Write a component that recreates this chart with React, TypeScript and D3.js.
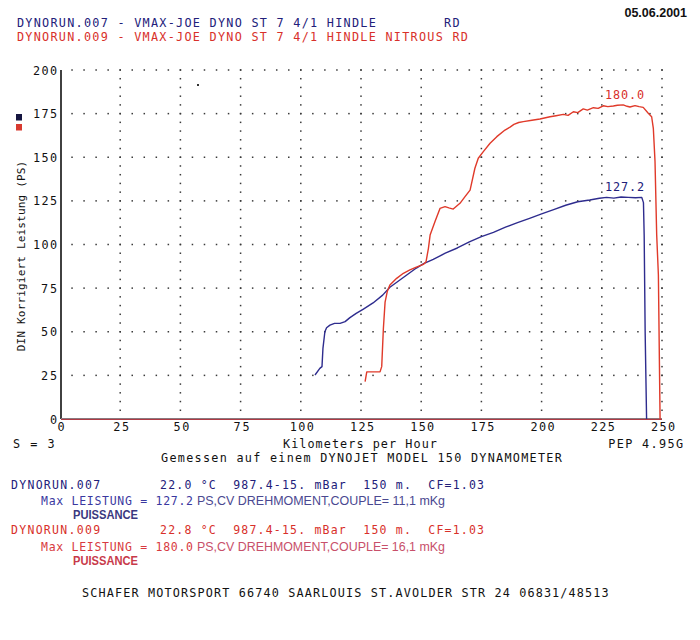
import React from "react";
import * as d3 from "d3";

// ---------- data ----------
const blueSpeed = [105.9,107.9,108.8,109.2,110.0,110.7,112.1,114.0,116.3,118.4,120.4,123,126,130,134,137,141,145,148,151,155,160,165,170,175,180,185,190,195,200,205,210,215,220,224,227,230,233,236,239,241.6,242.3,242.6,243.0,243.6];
const bluePower = [25.2,29,30,40.5,50,52.3,53.8,54.8,54.8,55.8,58.1,60.5,63,66.5,71,75.5,79.5,83.5,86.5,89,91.5,95,98,101.5,104.5,107,110,112.5,115,117.5,120,122.5,124.5,125.5,126.5,127,126.6,127.2,127,126.8,127,124,105,50,0];

const redSpeed = [126.7,127.4,130,132.9,133.6,134.3,135.0,135.9,137.0,139.8,142.6,145.3,148,150.9,152.0,153.0,153.7,155.7,157.8,159.9,161.5,163.3,166.1,168.2,170.3,172.3,173.7,175.8,178.6,181.4,184.8,186.9,188.5,190.5,192.4,196,199.3,203.5,206,209,211,213.2,215,217.3,219,221.5,223.5,225.6,227.5,229.8,231.5,233.9,235.5,236.7,238.8,240.5,242.2,244.3,245.7,246.4,247.1,247.8,248.5,249.2];
const redPower = [21.4,27,27,27,30,52,67,73,76.8,80.6,83.5,85.4,87,88.6,90.1,97.8,105.4,113,120.7,121.7,121,120.3,123.6,127.4,131.2,143.7,149.4,153.2,158,161.8,165.6,167.3,168.8,169.9,170.4,171.2,171.9,173.2,173.8,174.6,174,176.1,175.6,177.7,177,178.4,178,179.5,179,179.4,179.8,180.0,179.2,178.8,179.6,179,178.6,175.2,173.2,166.6,147.5,105.4,82.5,0];

const xTicks = [0,25,50,75,100,125,150,175,200,225,250];
const yTicks = [0,25,50,75,100,125,150,175,200];
const blueMax = "127.2";
const redMax = "180.0";

// ---------- style ----------
const DOS = "'DejaVu Sans Mono', monospace";
const SANS = "'Liberation Sans', Arial, sans-serif";
const BLUE = "#2e2c8e";
const BLUE_TXT = "#22207a";
const BLUE_LIGHT = "#4a4890";
const RED = "#e03a2a";
const RED_TXT = "#d8302a";
const RED_LIGHT = "#c8506a";

function Dos({ x, y, s, pitch = 8.3, size = 11.8, fill = "#000", anchor = "start", transform }: any) {
  return (
    <text
      x={x}
      y={y}
      fontFamily={DOS}
      fontSize={size}
      fill={fill}
      textAnchor={anchor}
      textLength={s.length * pitch}
      lengthAdjust="spacing"
      transform={transform}
      style={{ whiteSpace: "pre" }}
    >
      {s}
    </text>
  );
}

export default function App() {
  const x = d3.scaleLinear().domain([0, 250]).range([60, 662]);
  const y = d3.scaleLinear().domain([0, 200]).range([419, 70]);

  const line = d3
    .line<[number, number]>()
    .x((d) => x(d[0]))
    .y((d) => y(d[1]))
    .curve(d3.curveLinear);

  const blueData: [number, number][] = blueSpeed.map((s, i) => [s, bluePower[i]]);
  const redData: [number, number][] = redSpeed.map((s, i) => [s, redPower[i]]);

  // grid dots every 5 units along gridlines
  const dots: { cx: number; cy: number }[] = [];
  yTicks.filter((t) => t > 0).forEach((t) => {
    for (let k = 5; k <= 250; k += 5) dots.push({ cx: x(k), cy: y(t) });
  });
  xTicks.filter((t) => t > 0).forEach((t) => {
    for (let p = 5; p <= 200; p += 5) dots.push({ cx: x(t), cy: y(p) });
  });

  return (
    <svg
      width={700}
      height={640}
      style={{ position: "absolute", left: 0, top: 0, background: "#fff" }}
    >
      <rect x={0} y={0} width={700} height={640} fill="#fff" />

      {/* date */}
      <text x={687} y={17} textAnchor="end" fontFamily={SANS} fontWeight="bold" fontSize={12.5} fill="#111">
        05.06.2001
      </text>

      {/* header */}
      <Dos x={17} y={27} s="DYNORUN.007 - VMAX-JOE DYNO ST 7 4/1 HINDLE        RD" pitch={8.35} fill={BLUE_TXT} />
      <Dos x={17} y={41} s="DYNORUN.009 - VMAX-JOE DYNO ST 7 4/1 HINDLE NITROUS RD" pitch={8.35} fill={RED_TXT} />

      {/* legend squares */}
      <rect x={16} y={114} width={6} height={6.5} fill="#151540" />
      <rect x={16} y={124} width={6} height={6.5} fill="#d83a30" />

      {/* grid dots */}
      {dots.map((d, i) => (
        <rect key={i} x={d.cx - 0.75} y={d.cy - 0.75} width={1.5} height={1.5} fill="#3a3a3a" />
      ))}
      <rect x={197} y={84} width={2} height={2} fill="#333" />

      {/* axes */}
      <line x1={61} x2={61} y1={y(200)} y2={y(0)} stroke="#111" strokeWidth={1.6} />
      <line x1={61} x2={x(250)} y1={y(0) - 0.5} y2={y(0) - 0.5} stroke="#8a7a80" strokeWidth={1} />
      <line x1={61} x2={x(250)} y1={y(0) + 0.5} y2={y(0) + 0.5} stroke="#b03a44" strokeWidth={1.2} />

      {/* y tick labels */}
      {yTicks.map((t) => (
        <Dos key={t} x={57} y={y(t) + 4.5} s={String(t)} pitch={8} anchor="end" fill="#111" />
      ))}
      {/* x tick labels */}
      {xTicks.map((t) => (
        <Dos key={t} x={x(t) + 1} y={431} s={String(t)} pitch={8} anchor="middle" fill="#111" />
      ))}

      {/* y axis title */}
      <Dos
        x={0}
        y={0}
        s="DIN Korrigiert Leistung (PS)"
        pitch={6.8}
        size={11}
        anchor="middle"
        fill="#111"
        transform="translate(25,256) rotate(-90)"
      />

      {/* curves */}
      <path d={line(blueData) || ""} fill="none" stroke={BLUE} strokeWidth={1.4} strokeLinejoin="round" />
      <path d={line(redData) || ""} fill="none" stroke={RED} strokeWidth={1.4} strokeLinejoin="round" />

      {/* peak labels */}
      <Dos x={605} y={99} s={redMax} pitch={7.8} fill={RED_TXT} />
      <Dos x={605} y={191} s={blueMax} pitch={7.8} fill={BLUE_TXT} />

      {/* axis texts */}
      <Dos x={13} y={448} s="S = 3" pitch={8.3} fill="#111" />
      <Dos x={283} y={448} s="Kilometers per Hour" pitch={8.1} fill="#111" />
      <Dos x={683} y={448} s="PEP 4.95G" pitch={8.3} anchor="end" fill="#111" />
      <Dos x={161} y={462} s="Gemessen auf einem DYNOJET MODEL 150 DYNAMOMETER" pitch={8.35} fill="#111" />

      {/* run 007 block */}
      <Dos x={11} y={489} s="DYNORUN.007" pitch={8.1} size={11.5} fill={BLUE_TXT} />
      <Dos x={160} y={489} s="22.0 °C  987.4-15. mBar  150 m.  CF=1.03" pitch={8.1} size={11.5} fill={BLUE_TXT} />
      <Dos x={41} y={505} s={"Max LEISTUNG = " + blueMax} pitch={7.6} size={11.5} fill={"#3a38a0"} />
      <text x={197} y={505} fontFamily={SANS} fontSize={12} fill={BLUE_LIGHT} textLength={248} lengthAdjust="spacingAndGlyphs">
        PS,CV  DREHMOMENT,COUPLE= 11,1 mKg
      </text>
      <text x={73} y={519} fontFamily={SANS} fontWeight="bold" fontSize={12} fill={"#3a3880"} textLength={65} lengthAdjust="spacingAndGlyphs">
        PUISSANCE
      </text>

      {/* run 009 block */}
      <Dos x={11} y={534} s="DYNORUN.009" pitch={8.1} size={11.5} fill={RED_TXT} />
      <Dos x={160} y={534} s="22.8 °C  987.4-15. mBar  150 m.  CF=1.03" pitch={8.1} size={11.5} fill={RED_TXT} />
      <Dos x={41} y={551} s={"Max LEISTUNG = " + redMax} pitch={7.6} size={11.5} fill={"#d83a40"} />
      <text x={197} y={551} fontFamily={SANS} fontSize={12} fill={RED_LIGHT} textLength={248} lengthAdjust="spacingAndGlyphs">
        PS,CV  DREHMOMENT,COUPLE= 16,1 mKg
      </text>
      <text x={73} y={565} fontFamily={SANS} fontWeight="bold" fontSize={12} fill={"#c83a4a"} textLength={65} lengthAdjust="spacingAndGlyphs">
        PUISSANCE
      </text>

      {/* footer */}
      <Dos x={82} y={597} s="SCHAFER MOTORSPORT 66740 SAARLOUIS ST.AVOLDER STR 24 06831/48513" pitch={8.23} fill="#111" />
    </svg>
  );
}
